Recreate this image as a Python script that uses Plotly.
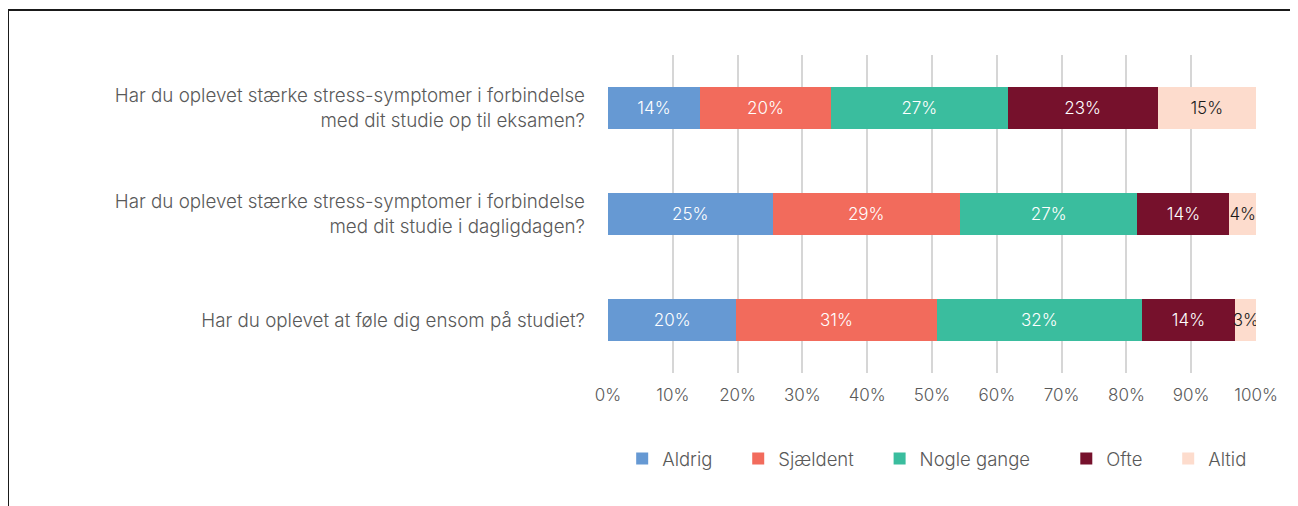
import plotly.graph_objects as go

questions = [
    "Har du oplevet stærke stress-symptomer i forbindelse<br>med dit studie op til eksamen?",
    "Har du oplevet stærke stress-symptomer i forbindelse<br>med dit studie i dagligdagen?",
    "Har du oplevet at føle dig ensom på studiet?",
]
series_names = ["Aldrig", "Sjældent", "Nogle gange", "Ofte", "Altid"]
aldrig = [14.2, 25.4, 19.8]
sjaeldent = [20.2, 28.9, 30.9]
nogle_gange = [27.3, 27.4, 31.7]
ofte = [23.1, 14.2, 14.35]
altid = [15.2, 4.1, 3.35]
tick_vals = [0, 10, 20, 30, 40, 50, 60, 70, 80, 90, 100]
tick_text = ["0%", "10%", "20%", "30%", "40%", "50%", "60%", "70%", "80%", "90%", "100%"]

values = [aldrig, sjaeldent, nogle_gange, ofte, altid]
colors = ["#6699d3", "#f26b5c", "#3abd9e", "#76112c", "#fddccd"]
text_colors = ["#ffffff", "#ffffff", "#ffffff", "#ffffff", "#1a1a1a"]
# legend entry padding (non-breaking spaces) to widen the gaps between entries
legend_pads = ["\u00a0" * 4, "\u00a0" * 4, "\u00a0" * 6, "\u00a0" * 4, ""]

FONT = "Inter, 'Noto Sans', sans-serif"
W = 300

fig = go.Figure()
for name, vals, col, tcol, lp in zip(series_names, values, colors, text_colors, legend_pads):
    fig.add_trace(go.Bar(
        y=questions, x=vals, name=name + lp, orientation="h",
        marker=dict(color=col, line=dict(width=0)),
        texttemplate="%{x:.0f}%", textposition="inside",
        insidetextanchor="middle", textangle=0, constraintext="none",
        textfont=dict(family=FONT, size=17, color=tcol, weight=W),
        hoverinfo="skip",
    ))

fig.update_layout(
    barmode="stack",
    bargap=0.6,
    width=1290, height=498,
    margin=dict(l=600, r=42, t=47, b=133),
    paper_bgcolor="white", plot_bgcolor="white",
    font=dict(family=FONT, color="#595959", weight=W),
    showlegend=True,
    legend=dict(
        orientation="h", x=0.508, xanchor="center", y=-0.27, yanchor="middle",
        font=dict(family=FONT, size=18.5, color="#595959", weight=W),
        itemwidth=30, traceorder="normal",
    ),
    xaxis=dict(
        range=[0, 100], tickvals=tick_vals, ticktext=tick_text,
        showgrid=True, gridcolor="#d6d6d6", gridwidth=2,
        zeroline=False, showline=False, ticks="", ticklabelstandoff=10,
        tickfont=dict(family=FONT, size=17, color="#595959", weight=W),
        fixedrange=True,
    ),
    yaxis=dict(
        autorange="reversed", showgrid=False, zeroline=False, showline=False,
        ticks="", ticklabelstandoff=22,
        tickfont=dict(family=FONT, size=18.8, color="#595959", weight=W),
        fixedrange=True,
    ),
    shapes=[
        dict(type="line", xref="paper", yref="paper",
             x0=(0 - 600) / 648, x1=(1290 - 600) / 648,
             y0=(365 - 2) / 318, y1=(365 - 2) / 318,
             line=dict(color="#1a1a1a", width=2)),
        dict(type="line", xref="paper", yref="paper",
             x0=(0 - 600) / 648, x1=(0 - 600) / 648,
             y0=(365 - 2) / 318, y1=(365 - 500) / 318,
             line=dict(color="#1a1a1a", width=2)),
    ],
)

fig.write_html("out.html", config={"displayModeBar": False})
